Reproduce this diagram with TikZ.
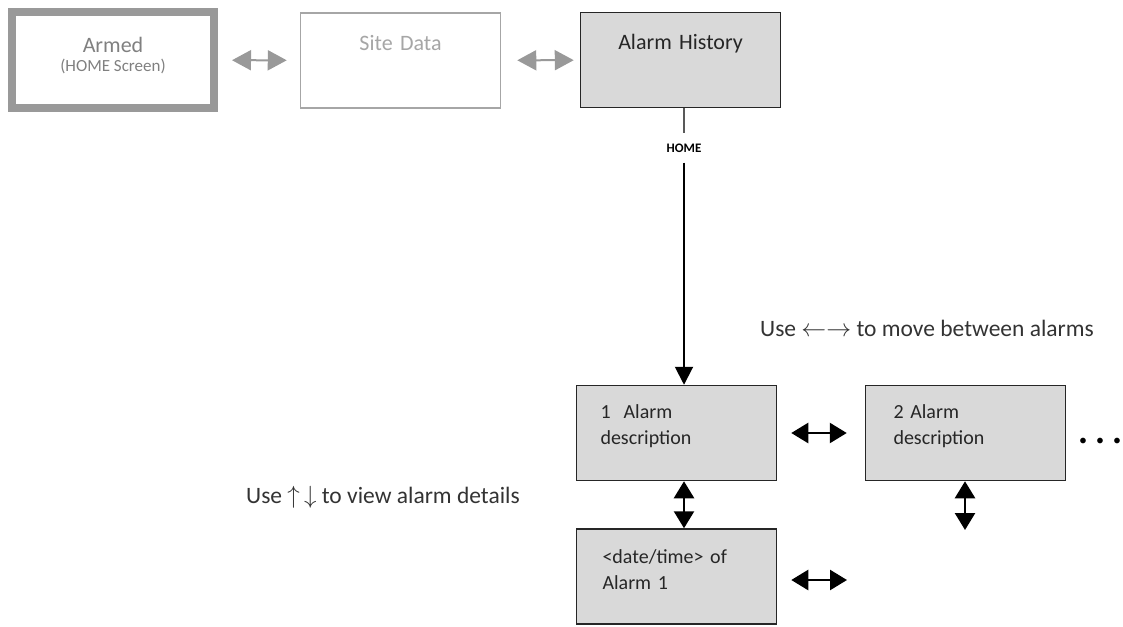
\documentclass[tikz,border=0pt]{standalone}
\usepackage{fontspec}
\setmainfont{Carlito}
\usetikzlibrary{arrows.meta, positioning}

\begin{document}
\begin{tikzpicture}[
  x=1pt, y=-1pt,
  screen/.style={draw=black!85, line width=1.5pt, fill=gray!30, text=black!85,
    minimum width=200pt, minimum height=95pt, inner xsep=24pt, text width=152pt,
    align=left, font=\fontsize{20}{26}\selectfont},
  hint/.style={text=black!80, font=\fontsize{23.5}{26}\selectfont},
  blackarrow/.style={line width=2.5pt,
    {Triangle[length=17pt,width=20pt]}-{Triangle[length=17pt,width=20pt]}},
  grayarrow/.style={line width=2pt, gray!80,
    {Triangle[length=19pt,width=20pt]}-{Triangle[length=19pt,width=20pt]}}]

  \useasboundingbox (0,0) rectangle (1123,626);

  % top row of screens
  \node[draw=gray!80, line width=8pt, minimum width=202pt, minimum height=96pt,
    text=gray, align=center, font=\fontsize{22}{24}\selectfont,
    text height=36pt, text depth=14pt] (armed) at (113,60)
    {Armed\\[-5pt]{\fontsize{17}{20}\selectfont(HOME Screen)}};
  \node[screen, draw=gray!70, fill=white, text=gray!70, align=center,
    font=\fontsize{22}{26}\selectfont, text height=15pt, text depth=35pt]
    (site) at (400.5,60.5) {Site Data};
  \node[screen, align=center, font=\fontsize{22}{26}\selectfont,
    text height=15pt, text depth=35pt] (hist) at (680.5,60) {Alarm History};

  \draw[grayarrow, shorten <=14pt, shorten >=13pt] (armed) -- (site);
  \draw[grayarrow, shorten <=16pt, shorten >=6pt] (site) -- (hist);

  % alarm screens
  \node[screen, text height=15pt, text depth=45pt] (alarm1) at (676.5,433)
    {1\hspace{13pt}Alarm\\description};
  \node[screen, inner xsep=28pt, text width=144pt, text height=15pt,
    text depth=45pt] (alarm2) at (965.5,433) {2~Alarm\\description};
  \node[screen, inner xsep=26pt, text width=148pt, text height=15pt,
    text depth=42pt] (date1) at (676.5,576.5) {<date/time> of\\Alarm 1};

  \node[font=\bfseries\fontsize{13}{13}\selectfont, inner ysep=10pt]
    (home) at (684,148) {HOME};
  \coordinate (next3) at (847,580);
  \coordinate (more2) at (965,530);

  \draw[line width=2pt, black!65] (home |- hist.south) -- (home);
  \draw[line width=2pt, -{Triangle[length=18pt,width=18pt]}]
    (home) -- (home |- alarm1.north);

  \draw[blackarrow, shorten <=14pt, shorten >=18pt] (alarm1) -- (alarm2);
  \draw[blackarrow] (home |- alarm1.south) -- (home |- date1.north);
  \draw[blackarrow] (more2 |- alarm2.south) -- (more2);
  \draw[blackarrow, shorten <=14pt] (date1.east |- next3) -- (next3);

  \node[text=black, font=\fontsize{16}{16}\selectfont] (dots) at (1100,442)
    {\textbullet\hspace{9pt}\textbullet\hspace{9pt}\textbullet};

  % hints
  \node[hint] (lrhint) at (927,328)
    {Use $\leftarrow\rightarrow$ to move between alarms};
  \node[hint] (udhint) at (383,497)
    {Use $\uparrow\,\downarrow$ to view alarm details};
\end{tikzpicture}
\end{document}
